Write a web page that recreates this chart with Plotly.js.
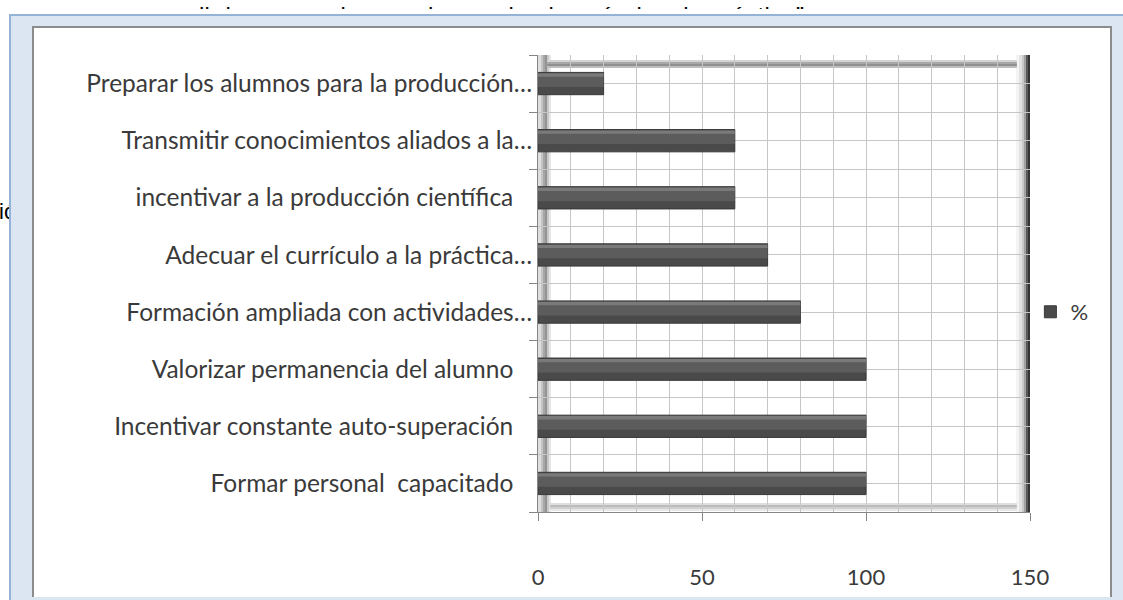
<!DOCTYPE html>
<html>
<head>
<meta charset="utf-8">
<script src="https://cdn.plot.ly/plotly-3.0.1.min.js"></script>
<style>
  html, body { margin:0; padding:0; }
  body { width:1123px; height:600px; overflow:hidden; background:#ffffff; position:relative; font-family:"Liberation Sans", Arial, sans-serif; }
  #toptext { position:absolute; left:139px; top:2px; font-size:24px; color:#000; white-space:nowrap; letter-spacing:0.3px; }
  #lefttext { position:absolute; left:-1px; top:199px; font-size:22px; color:#000; white-space:nowrap; }
  #mask { position:absolute; left:0; top:9px; width:1123px; height:6px; background:#fff; }
  #frame { position:absolute; left:9px; top:14px; width:1114px; height:586px; background:#dce6f2; border-top:2px solid #95b3d7; border-left:2px solid #95b3d7; box-sizing:border-box; }
  #chartbox { position:absolute; left:32px; top:26px; width:1080px; height:571px; background:#fff; border:2px solid #8c8c8c; border-bottom:none; box-sizing:border-box; }
  #chart { width:1076px; height:569px; }
</style>
</head>
<body>
<div id="toptext">cumplir lo que se desea adecuando el currículo a la práctica”</div>
<div id="lefttext">ió</div>
<div id="mask"></div>
<div id="frame"></div>
<div id="chartbox"><div id="chart"></div></div>
<script>
// ---- data (top to bottom as shown) ----
const categories = [
  "Preparar los alumnos para la producción…",
  "Transmitir conocimientos aliados a la…",
  "incentivar a la producción científica\u00a0\u00a0\u00a0",
  "Adecuar el currículo a la práctica…",
  "Formación ampliada con actividades…",
  "Valorizar permanencia del alumno\u00a0\u00a0\u00a0",
  "Incentivar constante auto-superación\u00a0\u00a0\u00a0",
  "Formar personal\u00a0 capacitado\u00a0\u00a0\u00a0"
];
const values = [20, 60, 60, 70, 80, 100, 100, 100];
const seriesName = "%";
const xTickVals = [0, 50, 100, 150];

const n = categories.length;
const positions = categories.map((c, i) => n - 1 - i);
const boundaries = [];
for (let i = 0; i <= n; i++) boundaries.push(i - 0.5);

const font = "Lato, 'Open Sans', sans-serif";
const textColor = "#3a3a3a";
const gridColor = "#c6c6c6";

const base = {
  type: "bar", orientation: "h", name: seriesName,
  x: values, y: positions, width: 0.39,
  marker: { color: "#4a4a4a", line: { color: "#383838", width: 1 } },
  hoverinfo: "x+y"
};
const mid = {
  type: "bar", orientation: "h", showlegend: false, hoverinfo: "skip",
  x: values, y: positions, width: 0.2, offset: -0.06,
  marker: { color: "#5c5c5c", line: { width: 0 } }
};
const hi = {
  type: "bar", orientation: "h", showlegend: false, hoverinfo: "skip",
  x: values, y: positions, width: 0.06, offset: 0.12,
  marker: { color: "#7a7a7a", line: { width: 0 } }
};

const shapes = [];
// left wall gradient
[["#dedede",0,3],["#c4c4c4",3,5],["#a6a6a6",5,7],["#949494",7,9],["#c8c8c8",9,11],["#e6e6e6",11,13]].forEach(s => {
  shapes.push({ type:"rect", layer:"below", xref:"x", yref:"paper", xsizemode:"pixel", xanchor:0,
    x0:s[1], x1:s[2], y0:0, y1:1, fillcolor:s[0], line:{width:0} });
});
// right wall gradient
[["#f4f4f4",-14,-11],["#e2e2e2",-11,-8],["#c8c8c8",-8,-6],["#a0a0a0",-6,-4],["#5a5a5a",-4,-2],["#333333",-2,0]].forEach(s => {
  shapes.push({ type:"rect", layer:"below", xref:"x", yref:"paper", xsizemode:"pixel", xanchor:150,
    x0:s[1], x1:s[2], y0:0, y1:1, fillcolor:s[0], line:{width:0} });
});
// top wall edge
[["#d4d4d4",-5,-7],["#a8a8a8",-7,-9],["#909090",-9,-11],["#bdbdbd",-11,-13]].forEach(s => {
  shapes.push({ type:"rect", layer:"below", xref:"x", yref:"paper", ysizemode:"pixel", yanchor:1,
    x0:2.8, x1:146, y0:s[1], y1:s[2], fillcolor:s[0], line:{width:0} });
});
// floor edge
[["#e8e8e8",1,3],["#d0d0d0",3,5],["#bcbcbc",5,7],["#dedede",7,9]].forEach(s => {
  shapes.push({ type:"rect", layer:"below", xref:"x", yref:"paper", ysizemode:"pixel", yanchor:0,
    x0:3.6, x1:146, y0:s[1], y1:s[2], fillcolor:s[0], line:{width:0} });
});

const layout = {
  width: 1076, height: 569,
  margin: { l: 504, r: 80, t: 27, b: 85 },
  paper_bgcolor: "#ffffff", plot_bgcolor: "#ffffff",
  barmode: "overlay",
  font: { family: font, size: 22, color: textColor },
  showlegend: true,
  legend: { xref: "container", yref: "container", x: 0.926, y: 0.5009, xanchor: "left", yanchor: "middle",
            font: { family: font, size: 22, color: textColor },
            itemwidth: 30, bgcolor: "rgba(0,0,0,0)" },
  xaxis: {
    range: [0, 150], tickvals: xTickVals, ticktext: xTickVals.map(String),
    showgrid: true, gridcolor: gridColor, gridwidth: 1,
    minor: { dtick: 10, showgrid: true, gridcolor: gridColor, gridwidth: 1 },
    zeroline: false, showline: true, linecolor: "#868686", linewidth: 1,
    ticks: "outside", ticklen: 8, tickcolor: "#868686",
    ticklabelstandoff: 38,
    tickfont: { family: font, size: 22, color: textColor }, fixedrange: true
  },
  yaxis: {
    range: [-0.5, n - 0.5], tickmode: "array", tickvals: positions, ticktext: categories,
    showgrid: true, gridcolor: gridColor, gridwidth: 1,
    minor: { tickmode: "array", tickvals: boundaries, ticks: "outside", ticklen: 8, tickcolor: "#868686",
             showgrid: true, gridcolor: gridColor, gridwidth: 1 },
    ticks: "", zeroline: false, showline: true, linecolor: "#868686", linewidth: 1,
    tickfont: { family: font, size: 24.5, color: textColor }, fixedrange: true
  },
  shapes: shapes
};

Plotly.newPlot("chart", [base, mid, hi], layout, { displayModeBar: false, staticPlot: true });
</script>
</body>
</html>
